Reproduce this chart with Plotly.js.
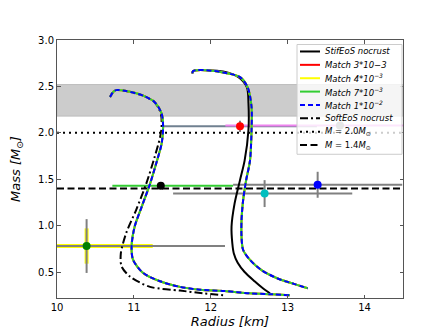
<!DOCTYPE html>
<html>
<head>
<meta charset="utf-8">
<script src="https://cdn.plot.ly/plotly-3.0.1.min.js"></script>
<style>
  html, body { margin: 0; padding: 0; background: #fff; }
  #mr-plot { width: 448px; height: 336px; }
</style>
</head>
<body>
<div id="mr-plot"></div>
<script>
// mass-radius curves (R in km, M in Msun)
const stiffR = [11.76, 11.77, 11.82, 11.94, 12.16, 12.36, 12.47, 12.49, 12.49, 12.44, 12.38, 12.31, 12.27, 12.28, 12.30, 12.35, 12.44, 12.57, 12.67, 12.77];
const stiffM = [2.64, 2.665, 2.675, 2.675, 2.66, 2.60, 2.49, 2.32, 2.03, 1.70, 1.49, 1.24, 0.99, 0.81, 0.70, 0.60, 0.50, 0.40, 0.33, 0.27];

const matchStiffR = [11.76, 11.77, 11.82, 11.94, 12.16, 12.38, 12.48, 12.53, 12.53, 12.51, 12.46, 12.42, 12.40, 12.40, 12.42, 12.51, 12.66, 12.87, 13.09, 13.26];
const matchStiffM = [2.64, 2.665, 2.675, 2.675, 2.65, 2.60, 2.49, 2.28, 2.03, 1.70, 1.49, 1.27, 1.06, 0.88, 0.74, 0.63, 0.52, 0.43, 0.37, 0.325];

const softR = [10.69, 10.73, 10.77, 10.90, 11.12, 11.27, 11.35, 11.36, 11.34, 11.27, 11.16, 11.03, 10.90, 10.83, 10.84, 10.95, 11.21, 11.60, 11.90, 12.16];
const softM = [2.385, 2.44, 2.46, 2.45, 2.40, 2.33, 2.21, 2.06, 1.95, 1.74, 1.45, 1.17, 0.92, 0.70, 0.56, 0.45, 0.34, 0.30, 0.27, 0.25];

const matchSoftR = [10.69, 10.73, 10.77, 10.90, 11.12, 11.27, 11.36, 11.38, 11.36, 11.29, 11.21, 11.10, 11.01, 10.97, 10.99, 11.12, 11.34, 11.60, 11.86, 12.18, 12.51, 12.80, 13.03];
const matchSoftM = [2.385, 2.44, 2.46, 2.45, 2.40, 2.33, 2.21, 2.06, 1.88, 1.67, 1.45, 1.20, 0.99, 0.77, 0.63, 0.49, 0.40, 0.34, 0.31, 0.295, 0.27, 0.26, 0.25];

// matching cases (all overlap in the plot)
const matchNames = ["Match 3*10\u22123", "Match 4*10<sup>\u22123</sup>", "Match 7*10<sup>\u22123</sup>", "Match 1*10<sup>\u22122</sup>"];
const matchColors = ["red", "yellow", "limegreen", "blue"];

// observations
const measR = [12.38, 13.68, 11.35, 13.39, 12.70, 10.385];
const measM = [2.07, 2.08, 1.43, 1.44, 1.345, 0.78];
const measColor = ["red", "gray", "black", "blue", "#00bfbf", "green"];
const errRlo = [1.0, 1.49, 0.63, 1.10, 1.19, 1.80];
const errRhi = [1.0, 1.60, 0.94, 1.10, 1.14, 1.80];
const errM = [0.06, 0, 0, 0.14, 0.145, 0.29];
const errRcolor = ["slategray", "violet", "limegreen", "gray", "gray", "gray"];

// inner (yellow) error box on the low-mass point
const innerR = [10.385];
const innerM = [0.78];
const innerErrR = [0.86];
const innerErrM = [0.19];

// reference masses and the grey band
const refMass = [2.0, 1.4];
const refNames = ["<i>M</i> = 2.0<i>M</i><sub>\u2299</sub>", "<i>M</i> = 1.4<i>M</i><sub>\u2299</sub>"];
const bandM = [2.18, 2.52];

const xRange = [10, 14.5];
const yRange = [0.22, 3.0];

const dashDot = "8px,3px,2px,3px";
const blueDash = "5px,3px";
const refDash = ["2px,4px", "7px,3.5px"];

let traces = [];

// inner yellow error bars first
traces.push({
  type: "scatter", mode: "markers",
  x: innerR, y: innerM,
  marker: { size: 1, opacity: 0 },
  error_x: { type: "data", array: innerErrR, color: "yellow", thickness: 4, width: 0 },
  error_y: { type: "data", array: innerErrM, color: "yellow", thickness: 4, width: 0 },
  hoverinfo: "skip", showlegend: false,
});

for (let i = 0; i < measR.length; i++) {
  traces.push({
    type: "scatter", mode: "markers",
    x: [measR[i]], y: [measM[i]],
    marker: { size: 1, opacity: 0 },
    error_x: { type: "data", symmetric: false, array: [errRhi[i]], arrayminus: [errRlo[i]], color: errRcolor[i], thickness: 2, width: 0 },
    error_y: { type: "data", array: [errM[i]], color: "gray", thickness: 2, width: 0, visible: errM[i] > 0 },
    hoverinfo: "skip", showlegend: false,
  });
}

// reference mass lines
for (let i = 0; i < refMass.length; i++) {
  traces.push({
    type: "scatter", mode: "lines",
    x: xRange, y: [refMass[i], refMass[i]],
    line: { color: "black", width: 2, dash: refDash[i] },
    hoverinfo: "skip", showlegend: false,
  });
}

// no-crust curves
traces.push({
  type: "scatter", mode: "lines", x: stiffR, y: stiffM,
  line: { color: "black", width: 2, shape: "spline", smoothing: 0.8 },
  hoverinfo: "skip", showlegend: false,
});
traces.push({
  type: "scatter", mode: "lines", x: softR, y: softM,
  line: { color: "black", width: 2, dash: dashDot, shape: "spline", smoothing: 0.8 },
  hoverinfo: "skip", showlegend: false,
});

// matched curves
for (let i = 0; i < matchColors.length; i++) {
  const dash = i === matchColors.length - 1 ? blueDash : "solid";
  [[matchStiffR, matchStiffM], [matchSoftR, matchSoftM]].forEach(function (c) {
    traces.push({
      type: "scatter", mode: "lines", x: c[0], y: c[1],
      line: { color: matchColors[i], width: 2, dash: dash, shape: "spline", smoothing: 0.8 },
      hoverinfo: "skip", showlegend: false,
    });
  });
}

// observation markers on top
traces.push({
  type: "scatter", mode: "markers",
  x: measR, y: measM,
  marker: { size: 8, color: measColor },
  hoverinfo: "skip", showlegend: false,
});

// hand-made legend (plotly's min row height is too tall here)
const legendItems = [
  { text: "<i>StifEoS nocrust</i>", color: "black", dash: "solid" },
  { text: "<i>" + matchNames[0] + "</i>", color: matchColors[0], dash: "solid" },
  { text: "<i>" + matchNames[1] + "</i>", color: matchColors[1], dash: "solid" },
  { text: "<i>" + matchNames[2] + "</i>", color: matchColors[2], dash: "solid" },
  { text: "<i>" + matchNames[3] + "</i>", color: matchColors[3], dash: blueDash },
  { text: "<i>SoftEoS nocrust</i>", color: "black", dash: dashDot },
  { text: refNames[0], color: "black", dash: refDash[0] },
  { text: refNames[1], color: "black", dash: refDash[1] },
];

const plotTop = 39.5, plotH = 258.5, plotL = 57, plotW = 346;
const px2x = (p) => (p - plotL) / plotW;
const px2y = (p) => (plotTop + plotH - p) / plotH;

let shapes = [
  {
    type: "rect", xref: "paper", yref: "y", x0: 0, x1: 1, y0: bandM[0], y1: bandM[1],
    fillcolor: "#cccccc", line: { color: "#bdbdbd", width: 1 }, layer: "below",
  },
  {
    type: "rect", xref: "paper", yref: "paper",
    x0: px2x(297), x1: px2x(402), y0: px2y(154), y1: px2y(44),
    fillcolor: "rgba(255,255,255,0.8)", line: { color: "#cccccc", width: 1 }, layer: "above",
  },
];
let annotations = [];
legendItems.forEach(function (it, i) {
  const py = 51 + 13.4 * i;
  shapes.push({
    type: "line", xref: "paper", yref: "paper",
    x0: px2x(300), x1: px2x(320), y0: px2y(py), y1: px2y(py),
    line: { color: it.color, width: 2, dash: it.dash }, layer: "above",
  });
  annotations.push({
    xref: "paper", yref: "paper", x: px2x(323), y: px2y(py),
    xanchor: "left", yanchor: "middle", showarrow: false,
    text: it.text, font: { family: "DejaVu Sans", size: 8.5, color: "black" },
  });
});

const axisCommon = {
  showgrid: false, zeroline: false,
  showline: true, mirror: "ticks", linecolor: "#555", linewidth: 1,
  ticks: "inside", ticklen: 3.5, tickcolor: "#555", tickwidth: 1,
  tickfont: { family: "DejaVu Sans", size: 10, color: "black" },
};

const layout = {
  width: 448, height: 336,
  margin: { l: 57, r: 45, t: 39.5, b: 38 },
  paper_bgcolor: "white", plot_bgcolor: "white",
  showlegend: false,
  xaxis: Object.assign({}, axisCommon, {
    range: xRange, tickvals: [10, 11, 12, 13, 14],
    title: { text: "<i>Radius [km]</i>", font: { family: "DejaVu Sans", size: 13, color: "black" }, standoff: 4 },
  }),
  yaxis: Object.assign({}, axisCommon, {
    range: yRange, tickvals: [0.5, 1.0, 1.5, 2.0, 2.5, 3.0], tickformat: ".1f",
    title: { text: "<i>Mass [M<sub>\u2299</sub>]</i>", font: { family: "DejaVu Sans", size: 13, color: "black" }, standoff: 14 },
  }),
  shapes: shapes,
  annotations: annotations,
};

Plotly.newPlot("mr-plot", traces, layout, { staticPlot: true, displayModeBar: false });
</script>
</body>
</html>
